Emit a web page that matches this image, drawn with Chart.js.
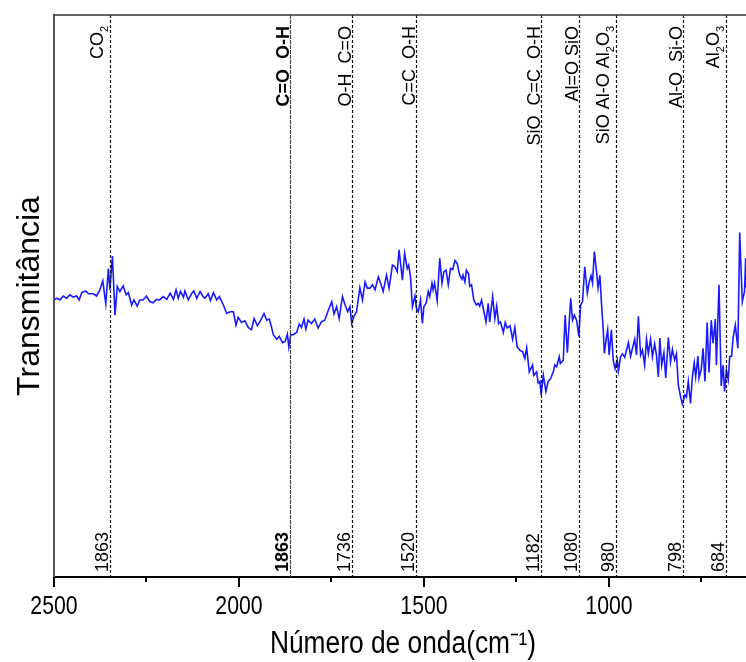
<!DOCTYPE html>
<html>
<head>
<meta charset="utf-8">
<script src="https://cdn.jsdelivr.net/npm/chart.js@4.4.1/dist/chart.umd.min.js"></script>
<style>
  html, body { margin: 0; padding: 0; background: #fff; }
  #wrap { width: 746px; height: 662px; position: relative; }
</style>
</head>
<body>
<div id="wrap"><canvas id="ftir" width="746" height="662"></canvas></div>
<script>
// FTIR spectrum: wavenumber (cm-1) and transmittance (arbitrary units)
const wavenumbers = [
  2500, 2493, 2484, 2475, 2466, 2457, 2448, 2439, 2432, 2425, 2414, 2407, 2394, 2385, 2376, 2368,
  2360, 2353, 2349, 2342, 2335, 2329, 2322, 2313, 2305, 2299, 2290, 2284, 2275, 2268, 2259, 2250,
  2241, 2232, 2223, 2214, 2205, 2195, 2186, 2177, 2170, 2164, 2158, 2150, 2146, 2137, 2128, 2122,
  2114, 2105, 2098, 2092, 2083, 2077, 2069, 2060, 2053, 2042, 2033, 2024, 2015, 2008, 2002, 1993,
  1984, 1975, 1966, 1959, 1950, 1941, 1932, 1925, 1918, 1912, 1907, 1898, 1891, 1882, 1875, 1869,
  1865, 1860, 1853, 1844, 1837, 1831, 1824, 1819, 1813, 1804, 1795, 1786, 1777, 1768, 1758, 1749,
  1743, 1736, 1729, 1720, 1713, 1706, 1700, 1695, 1689, 1682, 1673, 1666, 1659, 1653, 1646, 1639,
  1632, 1623, 1617, 1610, 1601, 1594, 1585, 1578, 1572, 1567, 1558, 1552, 1545, 1541, 1536, 1531,
  1524, 1520, 1515, 1509, 1504, 1500, 1494, 1488, 1484, 1478, 1475, 1471, 1464, 1457, 1451, 1446,
  1440, 1434, 1428, 1422, 1416, 1410, 1403, 1397, 1394, 1389, 1385, 1379, 1376, 1371, 1365, 1358,
  1353, 1349, 1344, 1340, 1332, 1326, 1322, 1314, 1308, 1303, 1298, 1293, 1285, 1280, 1275, 1267,
  1260, 1254, 1248, 1240, 1233, 1227, 1222, 1215, 1206, 1203, 1195, 1191, 1186, 1183, 1177, 1170,
  1164, 1158, 1150, 1146, 1141, 1134, 1131, 1123, 1118, 1112, 1103, 1098, 1093, 1087, 1081, 1076,
  1071, 1065, 1058, 1053, 1048, 1044, 1039, 1033, 1029, 1024, 1020, 1015, 1012, 1006, 1003, 999,
  993, 988, 983, 977, 974, 968, 963, 957, 952, 947, 941, 936, 930, 925, 920, 914,
  909, 903, 898, 893, 887, 882, 876, 871, 866, 862, 857, 851, 846, 839, 833, 828,
  822, 817, 812, 806, 801, 794, 790, 785, 779, 774, 769, 765, 759, 756, 750, 745,
  740, 734, 729, 723, 718, 712, 709, 702, 696, 691, 687, 682, 677, 673, 668, 664,
  658, 651, 646, 639, 633, 630, 629
];
const transmittance = [
  49.3, 49.6, 49.3, 50.0, 49.6, 50.2, 49.8, 50.0, 49.3, 50.6, 50.9, 50.4, 50.4, 50.0, 51.1, 52.7,
  48.6, 54.9, 51.1, 57.1, 46.6, 51.7, 50.8, 51.8, 50.2, 50.6, 48.4, 49.3, 48.2, 49.3, 49.3, 50.0,
  49.0, 48.8, 49.4, 49.3, 49.9, 49.4, 50.5, 49.4, 51.1, 49.6, 50.8, 49.8, 50.9, 49.3, 50.4, 50.9,
  49.6, 50.8, 50.0, 49.6, 50.4, 49.2, 50.6, 49.3, 49.9, 48.4, 46.9, 47.2, 47.2, 44.8, 46.2, 45.3,
  45.6, 44.4, 44.0, 46.0, 44.7, 45.7, 46.9, 45.7, 45.9, 44.5, 43.1, 42.3, 42.8, 41.7, 41.9, 43.2,
  40.9, 43.1, 43.1, 43.5, 45.0, 44.4, 45.9, 44.1, 45.7, 45.1, 45.9, 44.3, 45.4, 45.7, 47.5, 49.0,
  46.8, 48.1, 46.0, 49.9, 48.4, 47.2, 48.1, 45.1, 46.4, 47.2, 51.5, 49.3, 52.5, 51.4, 51.4, 52.0,
  51.1, 53.4, 52.3, 50.8, 53.7, 51.4, 55.5, 55.2, 54.3, 58.2, 52.8, 57.6, 54.9, 55.5, 53.4, 48.1,
  50.0, 47.8, 47.2, 49.3, 45.1, 48.1, 48.7, 50.8, 49.9, 52.3, 51.1, 52.3, 49.2, 56.7, 52.3, 54.3,
  54.6, 52.0, 54.9, 54.7, 56.3, 55.8, 53.7, 53.0, 53.7, 52.5, 54.6, 53.9, 51.7, 52.0, 49.3, 48.4,
  48.7, 48.2, 49.3, 48.0, 45.4, 48.7, 45.4, 49.9, 46.0, 48.2, 45.1, 45.4, 43.5, 45.3, 44.3, 44.7,
  42.3, 44.4, 41.0, 40.3, 40.1, 38.9, 40.8, 36.5, 37.7, 35.9, 36.5, 34.5, 34.8, 32.4, 35.9, 33.0,
  34.8, 35.2, 36.5, 37.7, 37.4, 39.2, 38.0, 38.6, 46.6, 39.9, 49.6, 45.7, 46.6, 45.7, 42.8, 48.4,
  49.0, 55.2, 50.5, 52.5, 53.6, 52.3, 57.9, 54.3, 51.4, 53.7, 49.0, 44.0, 39.8, 42.8, 44.0, 39.5,
  44.0, 38.6, 37.1, 38.6, 36.7, 39.2, 39.7, 39.1, 40.4, 41.7, 39.3, 40.7, 42.3, 39.5, 46.4, 39.5,
  40.4, 37.7, 42.3, 39.8, 42.3, 39.2, 41.5, 39.5, 35.6, 42.5, 37.7, 39.9, 35.4, 42.6, 38.3, 40.5,
  38.6, 39.7, 34.2, 32.1, 30.8, 32.4, 32.0, 34.8, 30.9, 35.6, 38.1, 35.6, 39.3, 35.4, 37.0, 40.7,
  34.8, 45.3, 36.4, 45.7, 41.6, 45.9, 37.7, 52.0, 34.0, 37.7, 33.0, 36.8, 35.1, 39.2, 39.3, 42.5,
  44.8, 40.7, 61.3, 49.0, 50.8, 56.7, 51.5
];

// Band assignments marked with dashed lines
const bandPositions = [2349, 1863, 1695, 1520, 1182, 1080, 980, 798, 684];
const bandAssignments = ['CO₂', 'C=O  O-H', 'O-H  C=O', 'C=C  O-H', 'SiO  C=C  O-H',
                         'Al=O SiO', 'SiO Al-O Al₂O₃', 'Al-O  Si-O', 'Al₂O₃'];
const bandLabels = ['1863', '1863', '1736', '1520', '1182', '1080', '980', '798', '684'];

// X axis ticks (labelled every 500 cm-1, minor marks in between)
const xTicks = [2500, 2250, 2000, 1750, 1500, 1250, 1000, 750];
const xTickLabels = ['2500', '', '2000', '', '1500', '', '1000', ''];
const xTitle = 'Número de onda(cm⁻¹)';

const FONT = '"Liberation Sans", Arial, Helvetica, sans-serif';
const CONDENSE = 0.85;          // horizontal squeeze for the axis lettering
const HIGHLIGHTED_BAND = 1;
const SUBSCRIPTS = '₀₁₂₃₄₅₆₇₈₉';

// Draw text along the rotated axis, turning subscript digits into small lowered digits
function drawRichText(ctx, text, u, align, size, weight) {
  const mainFont = `${weight} ${size}px ${FONT}`;
  const subFont = `${weight} ${Math.round(size * 0.62)}px ${FONT}`;
  const parts = [];
  for (const ch of text) {
    const k = SUBSCRIPTS.indexOf(ch);
    const sub = k >= 0;
    const t = sub ? String(k) : ch;
    const last = parts[parts.length - 1];
    if (last && last.sub === sub) last.t += t; else parts.push({ t, sub });
  }
  let total = 0;
  parts.forEach(p => { ctx.font = p.sub ? subFont : mainFont; p.w = ctx.measureText(p.t).width; total += p.w; });
  let pos = align === 'right' ? u - total : u;
  ctx.textAlign = 'left';
  ctx.textBaseline = 'alphabetic';
  parts.forEach(p => {
    ctx.font = p.sub ? subFont : mainFont;
    ctx.fillText(p.t, pos, p.sub ? size * 0.3 : 0);
    pos += p.w;
  });
}

const bandMarkers = {
  id: 'bandMarkers',
  afterDatasetsDraw(chart) {
    const { ctx, chartArea: a, scales: { x } } = chart;
    ctx.save();
    bandPositions.forEach((wn, i) => {
      const px = Math.round(x.getPixelForValue(wn)) + 0.5;
      const strong = i === HIGHLIGHTED_BAND;
      ctx.beginPath();
      ctx.setLineDash(strong ? [4, 1] : [3, 2]);
      ctx.strokeStyle = strong ? '#444' : '#111';
      ctx.lineWidth = 1.2;
      ctx.moveTo(px, a.top);
      ctx.lineTo(px, a.bottom);
      ctx.stroke();
      ctx.setLineDash([]);

      const hasSub = /[₀-₉]/.test(bandAssignments[i]);
      ctx.save();
      ctx.fillStyle = '#000';
      ctx.translate(px - (hasSub ? 8 : 2), 0);
      ctx.rotate(-Math.PI / 2);
      drawRichText(ctx, bandAssignments[i], -(a.top + 11), 'right', 18, strong ? 'bold' : 'normal');
      ctx.restore();

      ctx.save();
      ctx.fillStyle = '#000';
      ctx.translate(px - 3, 0);
      ctx.rotate(-Math.PI / 2);
      drawRichText(ctx, bandLabels[i], -(a.bottom - 5), 'left', 18, strong ? 'bold' : 'normal');
      ctx.restore();
    });
    ctx.restore();
  }
};

// Top frame line, outward tick marks, tick labels and title of the wavenumber axis
const frame = {
  id: 'frame',
  afterDraw(chart) {
    const { ctx, chartArea: a, scales: { x } } = chart;
    ctx.save();
    ctx.strokeStyle = '#333';
    ctx.lineWidth = 1.5;
    ctx.beginPath();
    ctx.moveTo(a.left, a.top);
    ctx.lineTo(a.right, a.top);
    ctx.stroke();

    ctx.strokeStyle = '#000';
    ctx.lineWidth = 2;
    ctx.fillStyle = '#000';
    ctx.textAlign = 'center';
    ctx.textBaseline = 'alphabetic';
    xTicks.forEach((v, i) => {
      const px = Math.round(x.getPixelForValue(v));
      const len = xTickLabels[i] ? 10 : 5;
      ctx.beginPath();
      ctx.moveTo(px, a.bottom);
      ctx.lineTo(px, a.bottom + len);
      ctx.stroke();
      if (xTickLabels[i]) {
        ctx.save();
        ctx.translate(px, a.bottom + 37);
        ctx.scale(CONDENSE, 1);
        ctx.font = `25px ${FONT}`;
        ctx.fillText(xTickLabels[i], 0, 0);
        ctx.restore();
      }
    });

    ctx.save();
    ctx.translate((a.left + a.right) / 2 + 3, a.bottom + 76);
    ctx.scale(CONDENSE, 1);
    ctx.font = `31px ${FONT}`;
    ctx.fillText(xTitle, 0, 0);
    ctx.restore();
    ctx.restore();
  }
};

new Chart(document.getElementById('ftir'), {
  type: 'line',
  data: {
    datasets: [{
      data: wavenumbers.map((w, i) => ({ x: w, y: transmittance[i] })),
      borderColor: '#1a1aff',
      borderWidth: 1.6,
      pointRadius: 0,
      tension: 0,
      fill: false
    }]
  },
  options: {
    responsive: false,
    animation: false,
    devicePixelRatio: 1,
    layout: { padding: { top: 15, right: 0, left: 0, bottom: 0 } },
    plugins: { legend: { display: false }, tooltip: { enabled: false } },
    scales: {
      x: {
        type: 'linear',
        reverse: true,
        min: 629,
        max: 2500,
        afterBuildTicks(s) { s.ticks = xTicks.map(v => ({ value: v })); },
        afterFit(s) { s.height = 85; },
        grid: { display: false },
        border: { display: true, color: '#000', width: 2 },
        ticks: { display: false },
        title: { display: false }
      },
      y: {
        min: 0,
        max: 100,
        afterFit(s) { s.width = 54; },
        ticks: { display: false },
        grid: { display: false },
        border: { display: true, color: '#555', width: 2 },
        title: {
          display: true,
          text: 'Transmitância',
          color: '#000',
          font: { family: FONT, size: 32 },
          padding: { top: 11, bottom: 0 }
        }
      }
    }
  },
  plugins: [bandMarkers, frame]
});
</script>
</body>
</html>
